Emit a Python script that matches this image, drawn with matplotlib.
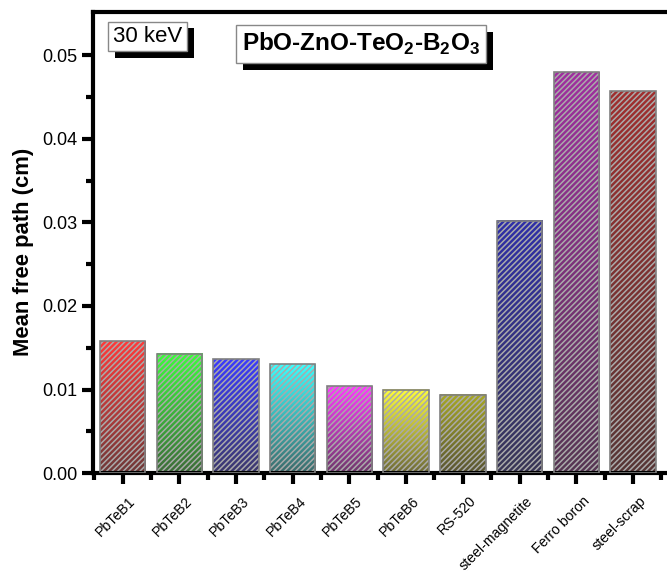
import numpy as np
import matplotlib
matplotlib.use("Agg")
import matplotlib.pyplot as plt
import matplotlib.patheffects as pe
import matplotlib.transforms as mtransforms
from matplotlib.colors import to_rgb

plt.rcParams['font.family'] = ['Liberation Sans', 'DejaVu Sans']
plt.rcParams['mathtext.fontset'] = 'custom'
plt.rcParams['mathtext.rm'] = 'Liberation Sans'
plt.rcParams['mathtext.bf'] = 'Liberation Sans:bold'
plt.rcParams['hatch.linewidth'] = 1.1

# --- data ---
materials = ['PbTeB1', 'PbTeB2', 'PbTeB3', 'PbTeB4', 'PbTeB5', 'PbTeB6',
             'RS-520', 'steel-magnetite', 'Ferro boron', 'steel-scrap']
mfp = [0.0158, 0.0143, 0.0136, 0.0130, 0.0104, 0.0100,
       0.0094, 0.0302, 0.0480, 0.0457]
top_colors = ['#ff3a3a', '#3aff3a', '#3a3aff', '#3affff', '#ff3aff', '#ffff3a',
              '#a8a824', '#2e2ea8', '#a02ea0', '#a02e2e']
dark = np.array([0.24, 0.22, 0.22])

fig = plt.figure(figsize=(6.67, 5.73), dpi=100)
ax = fig.add_axes([0.1387, 0.1745, 0.8613, 0.8045])

x = np.arange(len(materials))
width = 0.8

# gradient fill (bright at top -> dark at bottom)
for xi, h, c in zip(x, mfp, top_colors):
    top = np.array(to_rgb(c))
    bot = top * 0.25 + dark * 0.75
    t = np.linspace(0, 1, 200)[:, None]
    grad = (top * (1 - t) + bot * t)[:, None, :]
    ax.imshow(grad, extent=(xi - width / 2, xi + width / 2, 0, h),
              aspect='auto', interpolation='bilinear', zorder=1)

# hatch overlay
ax.bar(x, mfp, width=width, facecolor='none', edgecolor='#aaaaaa',
       hatch='//////', linewidth=0, zorder=2)
# outline
ax.bar(x, mfp, width=width, facecolor='none', edgecolor='#808080',
       linewidth=1.2, zorder=3)

ax.set_xlim(-0.53, 9.6)
ax.set_ylim(0, 0.0552)

# axes style
for side in ['left', 'bottom', 'top']:
    ax.spines[side].set_linewidth(3)
ax.spines['right'].set_visible(False)

ax.set_yticks([0, 0.01, 0.02, 0.03, 0.04, 0.05])
ax.set_yticklabels(['0.00', '0.01', '0.02', '0.03', '0.04', '0.05'])
ax.set_yticks(np.arange(0.005, 0.055, 0.01), minor=True)
ax.set_xticks(x)
ax.set_xticks(np.arange(-0.5, 10, 1), minor=True)
ax.set_xticklabels(materials, rotation=45, ha='right', va='top',
                   rotation_mode='anchor', fontsize=10.2)
ax.tick_params(axis='both', which='major', direction='out', length=8,
               width=3)
ax.tick_params(axis='both', which='minor', direction='out', length=5,
               width=3)
ax.tick_params(axis='y', labelsize=13, pad=3)
ax.tick_params(axis='x', pad=7)

# nudge x labels to the right like the original
shift = mtransforms.ScaledTranslation(6 / 100, 0, fig.dpi_scale_trans)
for lbl in ax.get_xticklabels():
    lbl.set_transform(lbl.get_transform() + shift)

ax.set_ylabel('Mean free path (cm)', fontsize=15.8, fontweight='bold')
ax.yaxis.set_label_coords(-0.102, 0.479)

# boxed labels with shadow
shadow = [pe.withSimplePatchShadow(offset=(5, -5), shadow_rgbFace='black',
                                   alpha=1.0)]
t1 = ax.text(0.0957, 0.947, '30 keV', transform=ax.transAxes, fontsize=16,
             ha='center', va='center',
             bbox=dict(boxstyle='square,pad=0.2', facecolor='white',
                       edgecolor='#888888', linewidth=1))
t1.get_bbox_patch().set_path_effects(shadow)

t2 = ax.text(0.468, 0.9306,
             r'PbO-ZnO-TeO$_\mathbf{2}$-B$_\mathbf{2}$O$_\mathbf{3}$',
             transform=ax.transAxes, fontsize=17.5, fontweight='bold',
             ha='center', va='center',
             bbox=dict(boxstyle='square,pad=0.25', facecolor='white',
                       edgecolor='#888888', linewidth=1))
t2.get_bbox_patch().set_path_effects(shadow)

fig.savefig('out.png', dpi=100)
